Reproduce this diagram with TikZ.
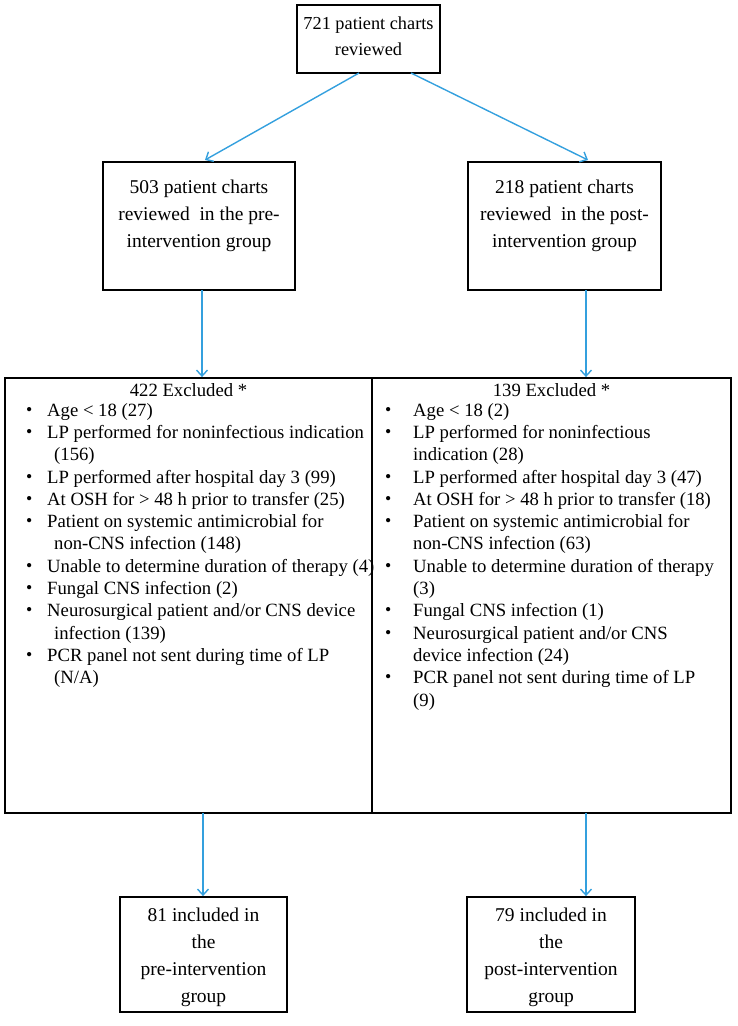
\documentclass[tikz,border=0pt]{standalone}
\usepackage{fontspec}
\usepackage{graphicx}
\setmainfont{Liberation Serif}
\usetikzlibrary{arrows.meta}
\definecolor{arrblue}{RGB}{52,160,222}
\newcommand{\bitem}[2][21pt]{\makebox[#1][l]{\raisebox{0.05em}{\scalebox{0.95}{\textbullet}}}#2}
\tikzset{
  box/.style={draw=black, line width=1.8pt, inner sep=0pt, align=center},
  topfont/.style={font=\fontsize{18.3}{26.5}\selectfont},
  upfont/.style={font=\fontsize{19.5}{27}\selectfont},
  exfont/.style={font=\fontsize{18.7}{22.3}\selectfont},
  arr/.style={draw=arrblue, line width=1.4pt, -{Straight Barb[length=6pt,width=11pt,line width=1.4pt]}},
}
\begin{document}
\begin{tikzpicture}[x=1pt,y=-1pt]
\useasboundingbox (0,0) rectangle (737,1026);
% top
\node[box, minimum width=143pt, minimum height=68pt] (top) at (368.5,39) {};
\node[topfont, inner sep=0pt, align=center] (toptxt) at (368.5,36) {721 patient charts\\reviewed};
\node[box, minimum width=192pt, minimum height=128pt] (pre) at (199,226) {};
\node[upfont, inner sep=0pt, align=center] (pretxt) at (199,215.5) {503 patient charts\\reviewed\ \ in the pre-\\intervention group};
\node[box, minimum width=193pt, minimum height=128pt] (post) at (564.5,226) {};
\node[upfont, inner sep=0pt, align=center] (posttxt) at (564.5,215.5) {218 patient charts\\reviewed\ \ in the post-\\intervention group};
% excluded boxes
\node[box, minimum width=367pt, minimum height=435pt] (exl) at (188.5,595.5) {};
\node[box, minimum width=359pt, minimum height=435pt] (exr) at (551.5,595.5) {};
\node[exfont, inner sep=0pt] (exlt) at (188.5,390) {422 Excluded *};
\node[exfont, inner sep=0pt] (exrt) at (551.5,390) {139 Excluded *};
\node[exfont, anchor=north west, inner sep=0pt, align=left] (exll) at (26,403) {%
\bitem{Age < 18 (27)}\\
\bitem{LP performed for noninfectious indication}\\
\hspace*{28pt}(156)\\
\bitem{LP performed after hospital day 3 (99)}\\
\bitem{At OSH for > 48 h prior to transfer (25)}\\
\bitem{Patient on systemic antimicrobial for}\\
\hspace*{28pt}non-CNS infection (148)\\
\bitem{Unable to determine duration of therapy (4)}\\
\bitem{Fungal CNS infection (2)}\\
\bitem{Neurosurgical patient and/or CNS device}\\
\hspace*{28pt}infection (139)\\
\bitem{PCR panel not sent during time of LP}\\
\hspace*{28pt}(N/A)};
\node[exfont, anchor=north west, inner sep=0pt, align=left] (exrl) at (385,403) {%
\bitem[28pt]{Age < 18 (2)}\\
\bitem[28pt]{LP performed for noninfectious}\\
\hspace*{28pt}indication (28)\\
\bitem[28pt]{LP performed after hospital day 3 (47)}\\
\bitem[28pt]{At OSH for > 48 h prior to transfer (18)}\\
\bitem[28pt]{Patient on systemic antimicrobial for}\\
\hspace*{28pt}non-CNS infection (63)\\
\bitem[28pt]{Unable to determine duration of therapy}\\
\hspace*{28pt}(3)\\
\bitem[28pt]{Fungal CNS infection (1)}\\
\bitem[28pt]{Neurosurgical patient and/or CNS}\\
\hspace*{28pt}device infection (24)\\
\bitem[28pt]{PCR panel not sent during time of LP}\\
\hspace*{28pt}(9)};
% bottom
\node[box, minimum width=167pt, minimum height=115pt] (inl) at (203.5,954.5) {};
\node[upfont, inner sep=0pt, align=center] (inltxt) at (203.5,957) {81 included in\\the\\pre-intervention\\group};
\node[box, minimum width=168pt, minimum height=115pt] (inr) at (551,954.5) {};
\node[upfont, inner sep=0pt, align=center] (inrtxt) at (551,957) {79 included in\\the\\post-intervention\\group};
% connector end points
\coordinate (a1s) at (359,73);
\coordinate (a1e) at (205,160);
\coordinate (a2s) at (411,73);
\coordinate (a2e) at (588,160);
\draw[arr] (a1s) -- (a1e);
\draw[arr] (a2s) -- (a2e);
\coordinate (p1) at (202,290);
\coordinate (p2) at (586,290);
\draw[arr] (p1) -- (p1 |- exl.north);
\draw[arr] (p2) -- (p2 |- exr.north);
\coordinate (q1) at (203,813);
\coordinate (q2) at (586,813);
\draw[arr] (q1) -- (q1 |- inl.north);
\draw[arr] (q2) -- (q2 |- inr.north);
\end{tikzpicture}
\end{document}
